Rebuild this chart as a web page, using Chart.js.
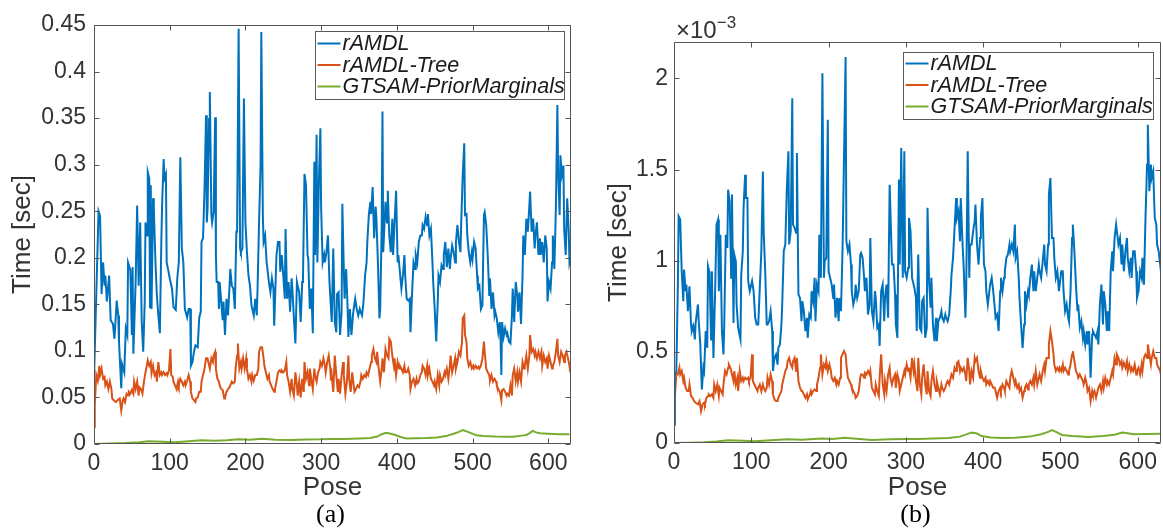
<!DOCTYPE html>
<html><head><meta charset="utf-8">
<script src="https://cdn.jsdelivr.net/npm/chart.js@4.4.1/dist/chart.umd.min.js"></script>
<style>
html,body{margin:0;padding:0;background:#fff;width:1163px;height:530px;overflow:hidden}
canvas{position:absolute;top:0}
#ca{left:0}
#cb{left:580px}
</style></head><body>
<canvas id="ca" width="580" height="530"></canvas>
<canvas id="cb" width="583" height="530"></canvas>
<script>
// ---------- DATA ----------
const seriesNames = ['rAMDL', 'rAMDL-Tree', 'GTSAM-PriorMarginals'];
const xTicks = [0, 100, 200, 300, 400, 500, 600];
const xTickLabels = ['0', '100', '200', '300', '400', '500', '600'];
const yTicksA = [0, 0.05, 0.1, 0.15, 0.2, 0.25, 0.3, 0.35, 0.4, 0.45];
const yTickLabelsA = ['0', '0.05', '0.1', '0.15', '0.2', '0.25', '0.3', '0.35', '0.4', '0.45'];
const yTicksB = [0, 0.5, 1, 1.5, 2];
const yTickLabelsB = ['0', '0.5', '1', '1.5', '2'];

// panel (a): [pose, time in sec]
const aBlue = [[0,.07],[3,.16],[6,.25],[8,.245],[10,.161],[12,.195],[14,.17],[15,.181],[17,.153],[20,.181],[22,.133],[25,.129],[27,.113],[30,.154],[32,.138],[33,.11],[36,.06],[37,.086],[40,.077],[42,.124],[44,.117],[45,.195],[48,.187],[50,.117],[51,.19],[52,.097],[55,.174],[57,.256],[59,.17],[61,.238],[63,.131],[65,.099],[67,.153],[68,.238],[70,.224],[71,.292],[73,.285],[74,.147],[75,.278],[76,.145],[78,.264],[79,.253],[81,.199],[83,.16],[85,.138],[87,.119],[89,.221],[90,.258],[92,.306],[93,.285],[95,.29],[96,.195],[98,.187],[100,.178],[103,.167],[105,.147],[108,.144],[110,.178],[112,.195],[114,.308],[116,.21],[118,.195],[120,.145],[123,.136],[125,.145],[127,.145],[128,.084],[130,.088],[132,.099],[134,.106],[137,.104],[139,.136],[141,.142],[142,.217],[144,.221],[146,.274],[148,.353],[149,.238],[150,.253],[152,.349],[153,.378],[155,.246],[156,.238],[158,.249],[160,.351],[161,.203],[162,.174],[164,.174],[165,.145],[166,.174],[168,.153],[170,.133],[171,.153],[173,.117],[175,.156],[177,.138],[179,.17],[180,.188],[182,.17],[184,.167],[186,.145],[188,.228],[189,.228],[191,.446],[193,.21],[194,.206],[196,.21],[198,.371],[200,.238],[202,.206],[204,.181],[206,.17],[208,.149],[211,.138],[213,.156],[215,.138],[216,.167],[218,.238],[220,.299],[221,.4425],[223,.246],[224,.217],[226,.224],[228,.195],[231,.174],[233,.163],[235,.178],[237,.167],[238,.127],[241,.203],[243,.217],[245,.217],[246,.185],[248,.203],[250,.181],[252,.156],[253,.231],[255,.156],[257,.174],[259,.142],[261,.178],[262,.167],[264,.135],[266,.108],[268,.174],[269,.17],[271,.163],[273,.131],[275,.174],[276,.178],[278,.29],[280,.278],[282,.203],[283,.199],[285,.145],[287,.167],[289,.119],[291,.303],[292,.203],[294,.332],[295,.195],[297,.281],[299,.339],[300,.253],[302,.195],[304,.203],[305,.195],[307,.206],[309,.224],[311,.174],[313,.145],[314,.131],[316,.21],[318,.131],[320,.12],[321,.161],[323,.163],[325,.117],[327,.142],[328,.258],[330,.185],[331,.156],[333,.188],[335,.145],[336,.115],[338,.145],[340,.117],[342,.138],[343,.145],[345,.156],[347,.145],[349,.138],[351,.145],[352,.142],[354,.138],[356,.153],[358,.181],[360,.195],[361,.217],[363,.246],[365,.26],[366,.247],[368,.276],[370,.221],[372,.255],[373,.242],[375,.195],[377,.135],[378,.145],[380,.235],[381,.357],[382,.206],[383,.206],[385,.26],[387,.238],[388,.272],[390,.224],[392,.206],[394,.242],[395,.203],[397,.238],[399,.272],[401,.195],[402,.203],[404,.185],[406,.167],[408,.181],[410,.203],[411,.181],[413,.156],[415,.154],[417,.156],[418,.12],[420,.16],[422,.195],[424,.188],[425,.203],[427,.195],[429,.217],[431,.224],[433,.224],[434,.235],[436,.231],[438,.244],[440,.235],[441,.247],[443,.224],[445,.231],[447,.195],[448,.174],[450,.145],[452,.11],[454,.153],[455,.181],[457,.174],[459,.192],[461,.188],[462,.203],[464,.217],[466,.19],[468,.21],[470,.188],[471,.199],[473,.213],[475,.206],[477,.195],[478,.217],[480,.235],[482,.217],[484,.206],[485,.238],[487,.289],[489,.323],[490,.246],[492,.247],[493,.224],[495,.206],[497,.195],[499,.206],[500,.199],[502,.217],[504,.21],[506,.181],[507,.167],[509,.17],[511,.145],[513,.149],[515,.246],[516,.249],[518,.235],[520,.203],[522,.16],[523,.178],[525,.145],[527,.163],[529,.138],[530,.142],[532,.135],[534,.12],[536,.131],[537,.11],[538,.074],[539,.131],[541,.115],[543,.124],[545,.117],[546,.119],[548,.11],[550,.108],[552,.138],[553,.167],[555,.131],[557,.174],[559,.16],[560,.142],[562,.163],[564,.129],[566,.181],[567,.224],[569,.203],[571,.242],[573,.228],[575,.256],[576,.271],[578,.228],[580,.242],[582,.21],[583,.224],[585,.238],[587,.203],[589,.221],[590,.203],[592,.217],[594,.195],[596,.224],[598,.21],[599,.153],[601,.174],[603,.167],[605,.195],[606,.224],[608,.188],[610,.253],[612,.364],[613,.292],[615,.246],[616,.31],[618,.289],[620,.299],[621,.231],[623,.203],[625,.264],[627,.228],[628,.195],[630,.203]];
const aRed = [[0,.018],[1,.042],[3,.074],[5,.068],[7,.084],[8,.074],[10,.081],[12,.07],[14,.072],[15,.063],[17,.067],[19,.059],[21,.067],[23,.059],[24,.049],[26,.047],[29,.045],[31,.047],[34,.049],[36,.036],[38,.047],[39,.049],[41,.045],[43,.054],[45,.052],[46,.056],[48,.054],[50,.058],[52,.054],[53,.067],[55,.059],[57,.067],[59,.052],[60,.061],[62,.059],[64,.054],[66,.067],[68,.077],[69,.081],[71,.09],[73,.084],[75,.088],[76,.076],[78,.084],[80,.074],[82,.077],[83,.067],[85,.088],[87,.074],[89,.077],[90,.074],[92,.077],[94,.074],[96,.076],[97,.074],[99,.079],[101,.102],[102,.074],[104,.072],[105,.067],[107,.063],[109,.059],[111,.067],[112,.063],[114,.07],[116,.067],[118,.063],[120,.067],[121,.063],[123,.068],[125,.074],[127,.067],[128,.056],[130,.049],[132,.047],[134,.045],[135,.049],[137,.05],[139,.056],[141,.056],[142,.067],[144,.074],[146,.081],[148,.092],[150,.092],[151,.088],[153,.081],[155,.092],[157,.088],[158,.095],[160,.099],[161,.081],[163,.07],[165,.067],[166,.063],[168,.059],[170,.058],[172,.049],[173,.05],[175,.056],[177,.059],[179,.061],[180,.063],[182,.067],[184,.065],[186,.067],[187,.081],[189,.095],[190,.108],[192,.081],[194,.088],[195,.081],[197,.092],[199,.081],[201,.092],[202,.081],[204,.07],[206,.074],[208,.067],[209,.074],[211,.068],[213,.074],[215,.074],[217,.081],[218,.099],[220,.104],[222,.104],[224,.092],[225,.084],[227,.077],[229,.07],[231,.074],[232,.067],[234,.063],[236,.059],[238,.056],[239,.059],[241,.067],[243,.077],[245,.079],[247,.077],[248,.079],[250,.077],[252,.079],[254,.088],[255,.074],[257,.067],[259,.056],[261,.07],[262,.059],[264,.052],[266,.077],[268,.063],[269,.052],[271,.067],[273,.05],[275,.07],[277,.056],[278,.088],[280,.07],[282,.077],[284,.063],[285,.081],[287,.07],[289,.059],[291,.081],[292,.074],[294,.067],[296,.077],[298,.081],[299,.088],[301,.084],[303,.092],[305,.084],[306,.077],[308,.088],[310,.095],[312,.081],[313,.068],[314,.074],[316,.056],[318,.095],[320,.074],[322,.056],[323,.07],[325,.054],[327,.074],[329,.088],[330,.074],[332,.054],[334,.067],[336,.095],[337,.07],[339,.056],[341,.077],[343,.063],[344,.056],[346,.059],[348,.063],[350,.061],[352,.067],[353,.074],[355,.07],[357,.074],[359,.072],[360,.077],[362,.074],[364,.081],[366,.088],[367,.095],[369,.102],[371,.092],[373,.088],[374,.099],[376,.081],[378,.067],[380,.081],[381,.092],[383,.077],[385,.102],[387,.095],[389,.092],[390,.113],[392,.11],[394,.095],[396,.084],[397,.092],[399,.074],[401,.088],[403,.081],[404,.084],[406,.081],[408,.077],[410,.084],[411,.077],[413,.077],[415,.081],[417,.074],[418,.059],[420,.067],[422,.07],[424,.063],[426,.07],[427,.065],[429,.067],[431,.074],[433,.077],[434,.084],[436,.081],[438,.074],[440,.084],[441,.074],[443,.081],[445,.07],[447,.067],[449,.063],[450,.067],[452,.059],[454,.074],[456,.063],[457,.074],[459,.067],[461,.07],[463,.077],[464,.074],[466,.081],[468,.07],[470,.084],[471,.095],[473,.077],[475,.084],[477,.092],[478,.081],[480,.088],[482,.099],[484,.095],[486,.11],[487,.135],[489,.138],[490,.117],[492,.11],[493,.092],[495,.084],[497,.088],[499,.081],[501,.084],[502,.081],[504,.084],[506,.081],[508,.083],[509,.081],[511,.084],[513,.092],[515,.11],[516,.099],[518,.081],[520,.077],[522,.074],[523,.068],[525,.074],[527,.067],[529,.07],[531,.067],[532,.063],[534,.059],[536,.056],[538,.047],[539,.058],[541,.059],[543,.056],[545,.052],[546,.054],[548,.052],[550,.063],[552,.052],[553,.074],[555,.081],[557,.067],[559,.077],[560,.067],[562,.077],[564,.067],[566,.088],[568,.081],[569,.084],[571,.095],[573,.081],[575,.095],[576,.117],[578,.099],[580,.102],[582,.095],[583,.099],[585,.092],[587,.099],[589,.092],[591,.099],[592,.084],[594,.095],[596,.088],[598,.092],[599,.081],[601,.095],[603,.088],[605,.081],[606,.084],[608,.088],[610,.099],[612,.113],[613,.095],[615,.088],[617,.099],[619,.095],[621,.088],[622,.095],[624,.099],[626,.092],[628,.084],[629,.077]];
const aGreen = [[0,0],[20,.0005],[41,.001],[60,.002],[72,.003],[90,.0025],[107,.002],[125,.003],[142,.004],[160,.0035],[175,.004],[191,.005],[205,.0045],[222,.0057],[240,.0045],[261,.0043],[280,.0048],[300,.005],[314,.0055],[330,.0055],[350,.006],[365,.0065],[374,.008],[380,.0105],[386,.012],[392,.011],[398,.0097],[405,.0075],[413,.006],[425,.0062],[440,.0065],[453,.007],[465,.0085],[475,.011],[482,.013],[487,.015],[492,.0135],[497,.012],[505,.0095],[514,.0086],[530,.008],[545,.0078],[554,.0079],[565,.009],[571,.0097],[576,.012],[579,.014],[584,.0125],[589,.0115],[600,.011],[615,.0105],[628,.0104]];

// panel (b): [pose, time in 1e-3 sec]
const bBlue = [[0,.102],[1,.376],[3,.39],[5,.869],[6,1.244],[8,1.226],[10,.94],[12,.778],[13,.952],[15,.833],[16,.869],[18,.723],[20,.86],[22,.65],[23,.614],[25,.641],[27,.568],[28,.659],[31,.76],[32,.668],[34,.541],[36,.294],[38,.413],[39,.395],[41,.614],[43,.522],[44,.97],[46,.933],[48,.568],[49,.942],[51,.467],[53,.796],[55,1.198],[57,1.226],[58,.833],[60,1.143],[62,.614],[64,.486],[65,.65],[67,1.143],[69,1.07],[70,1.39],[72,1.326],[74,.906],[75,1.363],[77,.659],[78,1.034],[80,.997],[81,.76],[83,.632],[86,.568],[87,.924],[89,1.052],[90,1.29],[92,1.472],[93,1.344],[95,1.344],[96,.888],[98,.833],[101,.888],[103,.833],[105,.687],[107,.65],[109,.65],[111,.851],[113,1.052],[115,1.49],[116,1.162],[118,.942],[120,.65],[121,.65],[123,.668],[125,.723],[127,.614],[128,.395],[130,.467],[132,.486],[134,.43],[135,.522],[137,.541],[139,.65],[140,.76],[142,1.052],[144,1.089],[146,1.399],[148,1.6],[149,1.089],[151,1.162],[153,1.892],[154,1.198],[156,1.18],[158,1.153],[159,1.591],[161,.815],[163,.796],[165,.668],[166,.778],[168,.723],[170,.614],[172,.687],[173,.577],[175,.705],[177,.687],[178,.833],[180,.778],[182,.906],[183,.668],[185,.869],[187,.833],[188,1.143],[190,.906],[192,2.029],[194,.906],[195,.997],[197,1.016],[199,1.773],[200,.942],[202,.906],[204,.869],[206,.796],[207,.869],[209,.687],[211,.796],[213,.668],[214,.796],[216,.723],[218,1.052],[219,1.308],[222,2.117],[223,1.107],[225,1.052],[227,1.089],[229,.979],[230,.833],[232,.76],[234,.796],[235,.869],[237,.796],[239,.833],[241,1.034],[242,1.043],[244,1.016],[246,.906],[247,.833],[249,.906],[251,.705],[253,.76],[254,1.125],[256,.723],[258,.668],[260,.833],[261,.796],[263,.632],[265,.65],[266,.532],[268,.833],[270,.869],[272,.668],[273,.796],[275,.869],[277,.687],[279,1.417],[280,1.271],[282,.979],[284,.979],[286,.815],[287,.65],[289,.577],[291,1.445],[292,.979],[294,1.618],[296,.906],[298,1.6],[299,.942],[301,.906],[303,.961],[304,1.235],[306,1.162],[308,.906],[310,.869],[311,.851],[313,.796],[314,.614],[316,1.034],[318,.632],[320,.614],[321,.778],[323,.796],[325,.577],[327,.632],[328,1.29],[330,.888],[332,.742],[333,.906],[335,.65],[337,.559],[339,.687],[340,.559],[342,.668],[344,.687],[346,.723],[347,.687],[349,.668],[351,.705],[352,.687],[354,.668],[356,.705],[358,.833],[359,.924],[361,1.016],[363,1.18],[365,1.344],[366,1.235],[368,1.271],[370,1.107],[371,1.344],[373,1.125],[375,.942],[377,.687],[378,.833],[380,1.6],[382,.906],[383,1.089],[385,1.089],[387,1.162],[389,1.216],[390,1.308],[392,1.089],[394,.979],[396,1.125],[397,1.235],[399,1.344],[401,.979],[403,.942],[404,.833],[406,.76],[408,.833],[409,.869],[411,.906],[413,.833],[415,.742],[416,.687],[418,.705],[420,.614],[422,.833],[423,.906],[425,.833],[427,.906],[428,.942],[430,1.016],[432,1.034],[434,1.089],[435,1.052],[437,1.089],[439,1.052],[441,1.198],[442,1.016],[444,1.052],[446,.906],[447,.796],[449,.65],[451,.522],[453,.65],[454,.833],[456,.76],[458,.833],[459,.815],[461,.906],[463,.979],[465,.833],[466,.942],[468,.833],[470,.906],[472,.979],[473,.942],[475,.906],[477,.997],[479,1.089],[480,.979],[482,.942],[484,1.089],[485,1.363],[487,1.454],[489,1.125],[491,1.125],[492,1.016],[494,.906],[496,.942],[498,.833],[499,.869],[501,.942],[503,.942],[504,.833],[506,.723],[508,.76],[510,.687],[511,.668],[513,.833],[515,1.125],[516,1.198],[518,1.052],[520,.869],[522,.723],[523,.76],[525,.632],[527,.668],[529,.577],[530,.614],[532,.541],[534,.614],[535,.541],[537,.614],[539,.358],[541,.595],[542,.614],[544,.595],[546,.577],[548,.614],[549,.541],[551,.76],[553,.869],[555,.65],[556,.833],[558,.76],[560,.614],[561,.723],[563,.614],[565,.942],[567,1.052],[568,.942],[570,1.125],[572,1.198],[573,1.198],[575,1.089],[577,1.125],[579,.979],[580,1.089],[582,.942],[584,1.052],[586,1.125],[587,1.016],[589,.942],[591,1.016],[592,.906],[594,1.052],[596,1.052],[598,.942],[599,.796],[601,.833],[603,.942],[605,.906],[606,1.016],[608,.869],[610,1.235],[612,1.527],[613,1.746],[615,1.381],[617,1.527],[618,1.454],[620,1.49],[622,1.235],[624,1.198],[625,1.089],[627,1.052],[629,.979],[630,.942]];
const bRed = [[0,.102],[1,.248],[3,.376],[5,.376],[7,.413],[8,.376],[10,.395],[12,.34],[13,.358],[15,.303],[17,.285],[19,.285],[20,.321],[22,.258],[24,.248],[26,.23],[28,.221],[31,.212],[33,.23],[35,.175],[37,.212],[39,.221],[40,.212],[42,.248],[44,.258],[45,.267],[47,.258],[49,.267],[51,.248],[52,.321],[54,.285],[56,.321],[58,.258],[59,.303],[61,.285],[63,.267],[64,.321],[66,.395],[68,.376],[70,.413],[71,.431],[73,.413],[75,.376],[77,.34],[78,.395],[80,.321],[82,.358],[83,.285],[85,.395],[87,.34],[89,.358],[90,.34],[92,.358],[94,.349],[96,.358],[97,.34],[99,.358],[101,.486],[102,.34],[104,.321],[106,.303],[108,.285],[109,.303],[111,.321],[113,.285],[115,.321],[116,.303],[118,.285],[120,.303],[121,.358],[123,.321],[125,.376],[127,.34],[128,.267],[130,.239],[132,.23],[134,.23],[135,.248],[137,.267],[139,.285],[140,.321],[142,.358],[144,.395],[146,.413],[147,.449],[149,.467],[151,.431],[153,.413],[154,.449],[156,.467],[158,.395],[159,.467],[161,.34],[163,.303],[165,.285],[166,.285],[168,.267],[170,.248],[172,.267],[173,.239],[175,.258],[177,.285],[178,.267],[180,.285],[182,.294],[184,.285],[185,.321],[187,.358],[189,.413],[190,.486],[192,.376],[194,.431],[196,.413],[197,.449],[199,.395],[201,.431],[203,.395],[204,.358],[206,.34],[208,.358],[210,.321],[211,.34],[213,.321],[215,.358],[216,.467],[218,.486],[220,.504],[222,.486],[223,.431],[225,.358],[227,.34],[229,.321],[230,.303],[232,.285],[234,.267],[235,.248],[237,.258],[239,.285],[241,.358],[242,.376],[244,.376],[246,.358],[247,.385],[249,.376],[251,.395],[253,.376],[254,.395],[256,.303],[258,.285],[260,.267],[261,.321],[263,.285],[265,.258],[266,.358],[268,.486],[270,.321],[272,.267],[273,.34],[275,.285],[277,.376],[279,.413],[280,.358],[282,.321],[284,.358],[286,.376],[287,.303],[289,.376],[291,.34],[292,.285],[294,.321],[296,.358],[298,.395],[299,.376],[301,.431],[303,.395],[304,.413],[306,.358],[308,.467],[310,.395],[311,.431],[313,.34],[315,.285],[316,.467],[318,.321],[320,.267],[321,.358],[323,.431],[325,.321],[327,.267],[328,.395],[330,.285],[332,.258],[333,.34],[335,.395],[337,.321],[339,.285],[340,.34],[342,.303],[344,.267],[346,.321],[347,.303],[349,.285],[351,.303],[352,.321],[354,.34],[356,.321],[358,.358],[359,.376],[361,.358],[363,.413],[365,.395],[366,.44],[368,.449],[370,.395],[371,.413],[373,.395],[375,.413],[377,.376],[378,.34],[380,.467],[382,.395],[383,.321],[385,.395],[387,.358],[389,.467],[390,.449],[392,.467],[394,.395],[396,.358],[397,.395],[399,.358],[401,.34],[403,.358],[404,.321],[406,.34],[408,.321],[409,.34],[411,.321],[413,.303],[415,.303],[416,.285],[418,.248],[420,.285],[422,.303],[423,.285],[425,.321],[427,.303],[428,.285],[430,.34],[432,.321],[434,.303],[435,.358],[437,.395],[439,.358],[441,.321],[442,.34],[444,.303],[446,.321],[447,.285],[449,.303],[451,.248],[453,.285],[454,.303],[456,.321],[458,.294],[459,.321],[461,.34],[463,.321],[465,.358],[466,.321],[468,.395],[470,.321],[472,.358],[473,.376],[475,.34],[477,.395],[479,.431],[480,.395],[482,.467],[484,.467],[485,.541],[487,.614],[489,.559],[491,.486],[492,.431],[494,.395],[496,.413],[498,.395],[499,.413],[501,.395],[503,.431],[504,.395],[506,.413],[508,.395],[510,.376],[511,.395],[513,.431],[515,.486],[516,.504],[518,.449],[520,.395],[522,.376],[523,.358],[525,.376],[527,.358],[529,.34],[530,.321],[532,.358],[534,.321],[535,.285],[537,.303],[539,.23],[541,.285],[542,.267],[544,.285],[546,.248],[548,.285],[549,.303],[551,.321],[553,.285],[555,.34],[556,.303],[558,.358],[560,.321],[561,.34],[563,.321],[565,.358],[567,.395],[568,.376],[570,.467],[572,.431],[573,.486],[575,.467],[577,.431],[579,.449],[580,.413],[582,.44],[584,.413],[586,.449],[587,.395],[589,.431],[591,.395],[592,.413],[594,.395],[596,.431],[598,.376],[599,.395],[601,.413],[603,.376],[605,.431],[606,.395],[608,.467],[610,.486],[612,.467],[613,.541],[615,.486],[617,.431],[618,.467],[620,.504],[622,.467],[624,.467],[625,.431],[627,.413],[629,.395],[630,.376]];
const bGreen = [[0,0],[20,.002],[40,.004],[55,.008],[70,.015],[90,.012],[105,.01],[125,.015],[148,.02],[165,.018],[191,.024],[205,.022],[221,.029],[240,.022],[256,.016],[280,.02],[300,.022],[316,.022],[335,.025],[355,.028],[370,.035],[380,.05],[385,.057],[392,.052],[398,.038],[410,.03],[425,.028],[441,.029],[460,.035],[475,.048],[485,.062],[489,.071],[495,.06],[502,.044],[515,.038],[536,.033],[555,.038],[570,.045],[580,.057],[585,.055],[595,.048],[610,.05],[630,.051]];

// ---------- STYLE ----------
const colors = ['#0072BD', '#D95319', '#77AC30'];
const SANS = '"Liberation Sans", Arial, Helvetica, sans-serif';
const SERIF = '"Liberation Serif", "Times New Roman", serif';
const TXT = '#333333';
const AX = '#555555';

const matlabFrame = {
  id: 'matlabFrame',
  afterDraw(chart, _args, o) {
    const {ctx, chartArea: {left, right, top, bottom}, scales: {x, y}} = chart;
    ctx.save();
    ctx.strokeStyle = AX;
    ctx.lineWidth = 1;
    const L = Math.round(left) + 0.5, R = Math.round(right) - 0.5;
    const T = Math.round(top) + 0.5, B = Math.round(bottom) - 0.5;
    ctx.beginPath();
    ctx.rect(L, T, R - L, B - T);
    const tl = 5;
    x.ticks.forEach(t => {
      const px = Math.round(x.getPixelForValue(t.value)) + 0.5;
      ctx.moveTo(px, B); ctx.lineTo(px, B - tl);
      ctx.moveTo(px, T); ctx.lineTo(px, T + tl);
    });
    y.ticks.forEach(t => {
      const py = Math.round(y.getPixelForValue(t.value)) + 0.5;
      ctx.moveTo(L, py); ctx.lineTo(L + tl, py);
      ctx.moveTo(R, py); ctx.lineTo(R - tl, py);
    });
    ctx.stroke();

    // legend box
    const bx = Math.round(right - o.legendRight - o.legendW) + 0.5;
    const by = Math.round(top + o.legendTop) + 0.5;
    ctx.fillStyle = '#ffffff';
    ctx.fillRect(bx, by, o.legendW, o.legendH);
    ctx.strokeStyle = '#5a5a5a';
    ctx.strokeRect(bx, by, o.legendW, o.legendH);
    ctx.font = 'italic 21.5px ' + SANS;
    ctx.textBaseline = 'middle';
    ctx.textAlign = 'left';
    chart.data.datasets.forEach((ds, i) => {
      const cy = by + o.rowFirst + i * o.rowStep;
      ctx.strokeStyle = ds.borderColor;
      ctx.lineWidth = 2;
      ctx.beginPath();
      ctx.moveTo(bx + 2, cy); ctx.lineTo(bx + 25, cy);
      ctx.stroke();
      ctx.fillStyle = '#1a1a1a';
      ctx.fillText(ds.label, bx + 27, cy + 1);
    });

    // panel caption
    ctx.fillStyle = '#000';
    ctx.font = '26px ' + SERIF;
    ctx.textAlign = 'center';
    ctx.textBaseline = 'middle';
    ctx.fillText(o.caption, (left + right) / 2 - 2, 515);

    // exponent label
    if (o.exponent) {
      ctx.fillStyle = TXT;
      ctx.textAlign = 'left';
      ctx.textBaseline = 'alphabetic';
      ctx.font = '24px ' + SANS;
      ctx.fillText('\u00d710', left + 2, 38);
      const w = ctx.measureText('\u00d710').width;
      ctx.font = '17px ' + SANS;
      ctx.fillText(o.exponent, left + 2 + w, 28);
    }
    ctx.restore();
  }
};

function makeChart(id, sets, yTicks, yLabels, yMax, o) {
  return new Chart(document.getElementById(id), {
    type: 'line',
    data: {
      datasets: sets.map((s, i) => ({
        label: seriesNames[i],
        data: s.map(p => ({x: p[0], y: p[1]})),
        borderColor: colors[i],
        backgroundColor: colors[i],
        borderWidth: 2,
        pointRadius: 0,
        tension: 0,
        fill: false
      }))
    },
    options: {
      responsive: false,
      animation: false,
      devicePixelRatio: 1,
      layout: {padding: {left: 0, right: o.padRight, top: o.padTop, bottom: 0}},
      plugins: {legend: {display: false}, tooltip: {enabled: false}, matlabFrame: o},
      scales: {
        x: {
          type: 'linear', min: 0, max: 630,
          grid: {display: false, drawTicks: false},
          border: {display: false},
          afterBuildTicks: s => { s.ticks = xTicks.map(v => ({value: v})); },
          ticks: {font: {family: SANS, size: 23}, color: TXT, padding: 6, maxRotation: 0, autoSkip: false,
                  callback: (v, i) => xTickLabels[i]},
          title: {display: true, text: 'Pose', font: {family: SANS, size: 26}, color: TXT, padding: {top: 0, bottom: 27}},
          afterFit: s => { s.height = o.xH; }
        },
        y: {
          type: 'linear', min: 0, max: yMax,
          grid: {display: false, drawTicks: false},
          border: {display: false},
          afterBuildTicks: s => { s.ticks = yTicks.map(v => ({value: v})); },
          ticks: {font: {family: SANS, size: 23}, color: TXT, padding: o.yPad, autoSkip: false,
                  callback: (v, i) => yLabels[i]},
          title: {display: true, text: 'Time [sec]', font: {family: SANS, size: 26}, color: TXT, padding: {top: o.yTitlePad, bottom: 0}},
          afterFit: s => { s.width = o.yW; }
        }
      }
    },
    plugins: [matlabFrame]
  });
}

makeChart('ca', [aBlue, aRed, aGreen], yTicksA, yTickLabelsA, 0.45,
  {padRight: 9, padTop: 25, xH: 86, yW: 94, yPad: 8, yTitlePad: 7,
   legendRight: 7, legendTop: 6, legendW: 249, legendH: 68, rowFirst: 12, rowStep: 21.5, caption: '(a)'});
makeChart('cb', [bBlue, bRed, bGreen], yTicksB, yTickLabelsB, 2.2,
  {padRight: 1, padTop: 42, xH: 87, yW: 94, yPad: 6, yTitlePad: 23,
   legendRight: 8, legendTop: 10, legendW: 250, legendH: 67, rowFirst: 11, rowStep: 21.5, caption: '(b)', exponent: '\u22123'});
</script>
</body></html>
